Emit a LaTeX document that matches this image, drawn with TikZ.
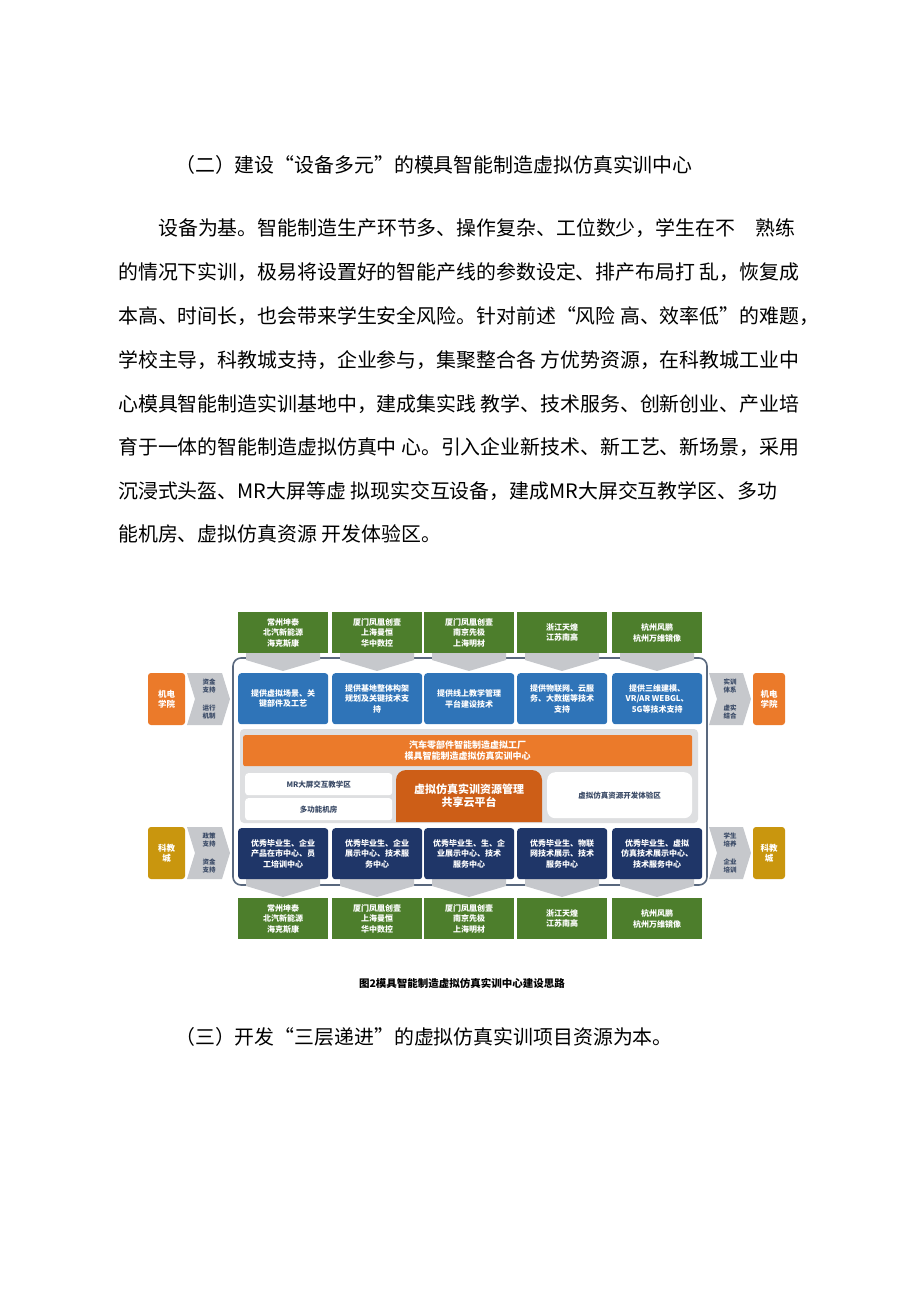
\documentclass[tikz,border=0pt]{standalone}
\usepackage{fontspec}
\setmainfont{Noto Sans CJK SC}
\begin{document}
\begin{tikzpicture}[x=1pt,y=-1pt,
  body/.style={anchor=base west,inner sep=0,font=\fontsize{19.9}{20}\selectfont},
  bx/.style={anchor=north west,inner sep=0,minimum height=#1,text=white,align=center,font=\fontsize{8}{10.5}\selectfont\bfseries},
  grn/.style={bx=41pt,fill=cgreen,minimum width=90pt},
  blu/.style={bx=51pt,fill=cblue,minimum width=90pt,rounded corners=3pt},
  nav/.style={bx=51pt,fill=cnavy,minimum width=90pt,rounded corners=3pt},
  chev/.style={fill=cgrey,draw=none},
  side/.style={font=\fontsize{6.5}{7.5}\selectfont\bfseries,text=cdark,align=center,inner sep=0}]
\definecolor{cgreen}{HTML}{4D7E2C}
\definecolor{cblue}{HTML}{2F74B8}
\definecolor{cnavy}{HTML}{1F3668}
\definecolor{corange}{HTML}{EB7A2A}
\definecolor{cdorange}{HTML}{CD5E17}
\definecolor{cgold}{HTML}{C9960E}
\definecolor{cgrey}{HTML}{C6C8CC}
\definecolor{cband}{HTML}{DEDFE1}
\definecolor{cframe}{HTML}{59687E}
\definecolor{cdark}{HTML}{3A4A66}
\useasboundingbox (0,0) rectangle (920,1301);
\fill[white] (0,0) rectangle (920,1301);
% text
\node[body] (h1) at (175,172) {（二）建设“设备多元”的模具智能制造虚拟仿真实训中心};
\node[body] (p1) at (158,235) {设备为基。智能制造生产环节多、操作复杂、工位数少，学生在不\hspace{20pt}熟练};
\node[body] (p2) at (118,279) {的情况下实训，极易将设置好的智能产线的参数设定、排产布局打 乱，恢复成};
\node[body] (p3) at (118,323) {本高、时间长，也会带来学生安全风险。针对前述“风险 高、效率低”的难题，};
\node[body] (p4) at (118,367) {学校主导，科教城支持，企业参与，集聚整合各 方优势资源，在科教城工业中};
\node[body] (p5) at (118,411) {心模具智能制造实训基地中，建成集实践 教学、技术服务、创新创业、产业培};
\node[body] (p6) at (118,454) {育于一体的智能制造虚拟仿真中 心。引入企业新技术、新工艺、新场景，采用};
\node[body] (p7) at (118,498) {沉浸式头盔、MR大屏等虚 拟现实交互设备，建成MR大屏交互教学区、多功};
\node[body] (p8) at (118,541) {能机房、虚拟仿真资源 开发体验区。};
\node[body] (p9) at (175,1044) {（三）开发“三层递进”的虚拟仿真实训项目资源为本。};
\node[font=\fontsize{10.5}{12}\selectfont\bfseries,inner sep=0] (cap) at (462,983) {图2模具智能制造虚拟仿真实训中心建设思路};
% frame
\draw[cframe,line width=1.6pt,fill=white,rounded corners=8pt] (233,658) rectangle (707,885);
\fill[cband,rounded corners=4pt] (240,729) rectangle (698,823);
% chevrons top/bottom
\foreach \x in {238,332,424,517,612}{
  \fill[chev] (\x+8,653) -- (\x+82,653) -- (\x+82,660) -- (\x+45,671) -- (\x+8,660) -- cycle;
  \fill[chev] (\x+8,879) -- (\x+82,879) -- (\x+82,886) -- (\x+45,897) -- (\x+8,886) -- cycle;
}
% green top
\node[grn] (g1) at (238,612) {常州坤泰\\北汽新能源\\海克斯康};
\node[grn] (g2) at (332,612) {厦门凤凰创壹\\上海曼恒\\华中数控};
\node[grn] (g3) at (424,612) {厦门凤凰创壹\\南京先极\\上海明材};
\node[grn] (g4) at (517,612) {浙江天煌\\江苏南高};
\node[grn] (g5) at (612,612) {杭州风鹏\\杭州万维镜像};
% blue
\node[blu] (b1) at (238,673) {提供虚拟场景、关\\键部件及工艺};
\node[blu] (b2) at (332,673) {提供基地整体构架\\规划及关键技术支\\持};
\node[blu] (b3) at (424,673) {提供线上教学管理\\平台建设技术};
\node[blu] (b4) at (517,673) {提供物联网、云服\\务、大数据等技术\\支持};
\node[blu] (b5) at (612,673) {提供三维建模、\\VR/AR WEBGL、\\5G等技术支持};
% orange bar
\node[bx=31pt,fill=corange,minimum width=449pt,font=\fontsize{9}{11}\selectfont\bfseries,rounded corners=2pt] (ob) at (243,735) {汽车零部件智能制造虚拟工厂\\模具智能制造虚拟仿真实训中心};
% white boxes
\node[bx=22pt,fill=white,text=cdark,minimum width=147pt,rounded corners=3pt,font=\fontsize{7.5}{9}\selectfont\bfseries] (w1) at (245,773) {MR大屏交互教学区};
\node[bx=22pt,fill=white,text=cdark,minimum width=147pt,rounded corners=3pt,font=\fontsize{7.5}{9}\selectfont\bfseries] (w2) at (245,798) {多功能机房};
\fill[cdorange,rounded corners=10pt] (396,822) -- (396,770) -- (542,770) -- (542,800) [sharp corners]-- (542,822) -- cycle;
\node[text=white,align=center,font=\fontsize{11}{13.5}\selectfont\bfseries] (oc) at (469,796) {虚拟仿真实训资源管理\\共享云平台};
\node[bx=46pt,fill=white,text=cdark,minimum width=145pt,rounded corners=8pt,font=\fontsize{7.5}{9}\selectfont\bfseries] (w3) at (547,772) {虚拟仿真资源开发体验区};
% navy
\node[nav] (n1) at (238,828) {优秀毕业生、企业\\产品在市中心、员\\工培训中心};
\node[nav] (n2) at (332,828) {优秀毕业生、企业\\展示中心、技术服\\务中心};
\node[nav] (n3) at (424,828) {优秀毕业生、生、企\\业展示中心、技术\\服务中心};
\node[nav] (n4) at (517,828) {优秀毕业生、物联\\网技术展示、技术\\服务中心};
\node[nav] (n5) at (612,828) {优秀毕业生、虚拟\\仿真技术展示中心、\\技术服务中心};
% green bottom
\node[grn] (d1) at (238,898) {常州坤泰\\北汽新能源\\海克斯康};
\node[grn] (d2) at (332,898) {厦门凤凰创壹\\上海曼恒\\华中数控};
\node[grn] (d3) at (424,898) {厦门凤凰创壹\\南京先极\\上海明材};
\node[grn] (d4) at (517,898) {浙江天煌\\江苏南高};
\node[grn] (d5) at (612,898) {杭州风鹏\\杭州万维镜像};
% side
\foreach \y/\c/\t/\a/\b/\cc/\dd in {673/corange/机电\\学院/资金\\支持/运行\\机制/实训\\体系/虚实\\结合, 827/cgold/科教\\城/政策\\支持/资金\\支持/学生\\培养/企业\\培训}{
  \fill[chev] (187,\y) -- (222,\y) -- (230,\y+26) -- (222,\y+52) -- (187,\y+52) -- (195,\y+26) -- cycle;
  \fill[chev] (709,\y) -- (743,\y) -- (751,\y+26) -- (743,\y+52) -- (709,\y+52) -- (717,\y+26) -- cycle;
  \fill[\c,rounded corners=3pt] (148,\y) rectangle (185,\y+52);
  \fill[\c,rounded corners=3pt] (753,\y) rectangle (785,\y+52);
  \node[side,text=white,font=\fontsize{8.5}{10}\selectfont\bfseries] at (166.5,\y+26) {\t};
  \node[side,text=white,font=\fontsize{8.5}{10}\selectfont\bfseries] at (769,\y+26) {\t};
  \node[side] at (209,\y+13) {\a};
  \node[side] at (209,\y+39) {\b};
  \node[side] at (730,\y+13) {\cc};
  \node[side] at (730,\y+39) {\dd};
}
\end{tikzpicture}
\end{document}
